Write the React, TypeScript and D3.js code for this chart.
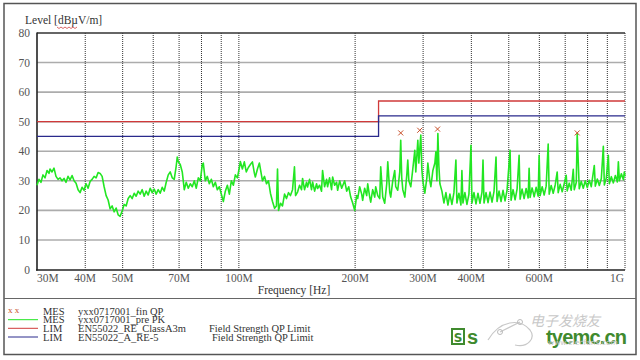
import React from "react";
import * as d3 from "d3";

// ---------- data ----------
const yTickValues = [0, 10, 20, 30, 40, 50, 60, 70, 80];
const xGridValues = [40, 50, 60, 70, 80, 90, 100, 200, 300, 400, 500, 600, 700, 800, 900, 1000];
const xTickValues = [30, 40, 50, 70, 100, 200, 300, 400, 600, 1000];
const xTickLabels = ["30M", "40M", "50M", "70M", "100M", "200M", "300M", "400M", "600M", "1G"];

// Limit lines (frequency MHz, level dBµV/m)
const limitClassAFreq = [30, 230, 230, 1000];
const limitClassALevel = [50, 50, 57, 57];
const limitRE5Freq = [30, 230, 230, 1000];
const limitRE5Level = [45, 45, 52, 52];

// QP final measurement markers
const qpFreq = [262.5, 294, 327, 752];
const qpLevel = [46.2, 47.1, 47.5, 46.2];

// Pre-scan peak trace (MHz, dBµV/m)
const preScan: [number, number][] = [
  [30.0, 28.5], [30.36, 30.5], [30.72, 29.5], [31.09, 32], [31.47, 31], [31.85, 33.5], [32.23, 32.5], [32.42, 34],
  [32.81, 33], [33.2, 34.3], [33.6, 31.5], [34.01, 30.5], [34.42, 31], [34.83, 30], [35.25, 30.8], [35.67, 29.5],
  [36.1, 31.5], [36.54, 30.3], [36.98, 31.8], [37.42, 30], [37.87, 29.2], [38.33, 27], [38.79, 26], [39.25, 27.8],
  [39.72, 26.8], [40.2, 29], [40.68, 27.5], [41.17, 29.8], [41.67, 30.5], [42.17, 31.5], [42.68, 31], [43.19, 32.8],
  [43.71, 32.5], [44.24, 31.5], [44.77, 28], [45.31, 25], [45.85, 23.5], [46.4, 20.5], [46.96, 21.5], [47.52, 19.5],
  [48.09, 20.8], [48.67, 18.5], [49.25, 18], [49.85, 19.8], [50.45, 22], [51.05, 21.5], [51.67, 24], [52.29, 25],
  [52.92, 24], [53.56, 25.8], [54.19, 24.8], [54.85, 26.5], [55.5, 25.5], [56.18, 27], [56.85, 24.8], [57.53, 26.5],
  [58.23, 25.2], [58.92, 27.5], [59.63, 26], [60.35, 27.2], [61.06, 25.5], [61.81, 27], [62.54, 25.8], [63.31, 27.8],
  [64.07, 26.5], [64.83, 29.5], [65.62, 32], [66.4, 33], [67.2, 31], [68.01, 30.5], [68.81, 35], [69.24, 38],
  [69.65, 36.5], [70.49, 35.5], [71.34, 33], [72.2, 27], [73.05, 29.5], [73.95, 27.5], [74.83, 29], [75.74, 28],
  [76.65, 30], [77.56, 27.5], [78.5, 31], [79.43, 30], [80.4, 35.5], [80.88, 36], [81.85, 30], [82.83, 31.5],
  [83.83, 29], [84.84, 30.5], [85.86, 28], [86.89, 29.5], [87.93, 27], [88.99, 28], [90.06, 25.5], [91.14, 23],
  [92.23, 26.5], [93.35, 28.5], [94.47, 25.5], [95.6, 30], [96.76, 28.5], [97.91, 32], [99.1, 31], [100.29, 34.5],
  [100.9, 36.5], [102.1, 34], [103.3, 36.4], [104.5, 33], [105.8, 34.5], [107.1, 35.5], [108.4, 36.4], [109.7, 32.5],
  [110.3, 31.3], [111.7, 34], [113.0, 36], [114.4, 32], [115.1, 30], [116.5, 31.5], [117.9, 29], [119.3, 30],
  [120.7, 25.8], [122.2, 23], [123.7, 20.7], [125.1, 21.5], [125.9, 34], [126.7, 20], [128.2, 22.4], [129.7, 21.5],
  [131.3, 25.5], [132.8, 24], [134.4, 26], [136.0, 25], [137.7, 27], [139.3, 34.7], [140.2, 25], [141.9, 26.2],
  [143.6, 28.5], [145.3, 27], [146.2, 30.8], [147.9, 27], [149.7, 29.5], [150.6, 27.9], [152.4, 30.5], [154.2, 27],
  [155.2, 29.6], [157.1, 26.5], [158.9, 29], [159.9, 27.4], [161.8, 28.5], [163.7, 26.5], [164.7, 33.5], [166.7, 28],
  [168.7, 30.5], [169.7, 28], [171.7, 31], [173.8, 27], [174.9, 31.3], [177.0, 28.5], [179.1, 29.5], [180.2, 26.8],
  [182.4, 30], [184.6, 27.5], [187.9, 30], [190.2, 26.5], [192.5, 28], [194.8, 24.5], [197.1, 22.5], [199.5, 20],
  [201.9, 25], [203.1, 24], [205.5, 28], [208.0, 25.5], [209.2, 23.4], [211.7, 27.5], [214.3, 25], [215.6, 29],
  [218.2, 24.5], [219.5, 22.8], [222.1, 27], [224.8, 24.5], [226.1, 28], [228.9, 25], [231.6, 24], [233.0, 34.7],
  [235.8, 24.5], [238.6, 22.4], [241.5, 29], [243.0, 36.4], [245.9, 26], [247.3, 24.5], [250.3, 30], [253.3, 33.5],
  [254.8, 28], [257.9, 26.8], [261.0, 33], [262.5, 43.7], [264.1, 31], [265.8, 27], [269.0, 24.5], [272.2, 32],
  [273.8, 37], [275.5, 30], [278.8, 28], [282.1, 34], [285.5, 40.3], [287.2, 33], [290.7, 43.7], [292.4, 36],
  [295.9, 45.5], [297.7, 34], [299.5, 30], [303.1, 25.8], [306.8, 31], [308.6, 36], [312.3, 30], [314.2, 28],
  [318.0, 33.5], [321.8, 36], [323.7, 39.8], [325.7, 30], [327.6, 46], [329.6, 35], [331.6, 29], [335.6, 26.5],
  [339.6, 22.5], [343.7, 26], [347.8, 21.8], [352.0, 25.5], [356.2, 22], [360.5, 26], [364.8, 37], [367.0, 22.5],
  [371.4, 25.8], [375.9, 21.8], [378.1, 33.5], [380.4, 22.5], [384.9, 26], [389.6, 22], [394.3, 25.5], [399.1, 42],
  [401.5, 22.5], [406.3, 26], [411.2, 22.2], [416.1, 25.8], [421.1, 22.4], [426.2, 26.2], [428.8, 37], [431.4, 22.5],
  [436.6, 26], [441.8, 22.6], [447.1, 26.2], [452.5, 22.8], [457.9, 26.4], [463.4, 38], [466.2, 23], [471.8, 26.5],
  [477.5, 23], [483.2, 26.8], [489.0, 23.2], [494.9, 26.8], [503.9, 40.3], [506.9, 23.4], [513.0, 27], [519.2, 23.6],
  [525.4, 27.2], [531.8, 38.6], [535.0, 23.8], [541.3, 27.2], [547.9, 24], [554.5, 27.4], [561.2, 24.2], [564.5, 34.2],
  [567.9, 24.4], [574.7, 27.6], [581.7, 24.6], [588.6, 27.8], [595.7, 24.8], [599.3, 38.6], [602.9, 25], [610.2, 28],
  [617.5, 25.2], [624.9, 28.2], [632.5, 42.4], [636.3, 25.5], [643.9, 28.4], [651.7, 25.8], [659.5, 28.6], [667.4, 33],
  [671.4, 26], [679.5, 28.8], [687.6, 26.3], [696.0, 29], [704.3, 31.9], [708.5, 26.6], [717.1, 29.2], [725.7, 26.8],
  [734.5, 33.9], [738.9, 27], [747.8, 29.4], [752, 46], [761.2, 27.3], [770.4, 29.8], [779.7, 27.5], [789.0, 30],
  [798.6, 27.7], [808.2, 30.2], [817.9, 28], [832.7, 35.2], [837.7, 28.2], [847.8, 30.6], [858.0, 28.4], [868.3, 30.8],
  [878.8, 41.7], [884.1, 28.6], [894.7, 31], [905.4, 38.6], [910.8, 29], [921.8, 31.4], [932.9, 29.3], [944.1, 31.8],
  [955.4, 29.6], [961.2, 36.4], [967.0, 30], [978.6, 32.4], [990.4, 30.4], [996, 33], [1000, 31.5],
];

const legendKinds = ["MES", "MES", "LIM", "LIM"];
const legendNames = ["yxx0717001_fin QP", "yxx0717001_pre PK", "EN55022_RE_ClassA3m", "EN55022_A_RE-5"];
const legendNotes = ["", "", "Field Strength QP Limit", "Field Strength QP Limit"];

// ---------- chart ----------
const SERIF = "'Liberation Serif', 'Times New Roman', serif";
const GREEN = "#22e622";
const RED = "#d03a3a";
const BLUE = "#2a2a8c";
const MARK = "#c8502a";

export default function App() {
  const x = d3.scaleLog().domain([30, 1000]).range([37, 625]);
  const y = d3.scaleLinear().domain([0, 80]).range([269.5, 33]);
  const line = d3.line<[number, number]>().x((d) => x(d[0])).y((d) => y(d[1]));
  const stepLine = (fs: number[], ls: number[]) =>
    line(fs.map((f, i) => [f, ls[i]] as [number, number])) || "";

  const legendRowY = [311, 319.7, 328.3, 337];
  const legendColors = [MARK, GREEN, RED, BLUE];

  return (
    <svg
      width={640}
      height={360}
      style={{ position: "absolute", left: 0, top: 0, background: "#fff" }}
      fontFamily={SERIF}
    >
      <rect x={0} y={0} width={640} height={360} fill="#fff" />
      {/* outer frame */}
      <rect x={4} y={3.5} width={632} height={351} fill="none" stroke="#555" strokeWidth={1.5} />
      <line x1={4} x2={636} y1={298.5} y2={298.5} stroke="#666" strokeWidth={1.2} />

      {/* y label */}
      <text x={25} y={24} fontSize={11.5} fill="#333">Level [dBµV/m]</text>
      <path
        d={d3.range(0, 11).map((i) => `${i === 0 ? "M" : "L"}${57 + i * 2},${i % 2 === 0 ? 27 : 28.5}`).join("")}
        fill="none"
        stroke="#d04040"
        strokeWidth={0.8}
      />

      {/* horizontal grid */}
      {yTickValues.filter((v) => v > 0 && v < 80).map((v) => (
        <line key={"h" + v} x1={37} x2={625} y1={y(v)} y2={y(v)} stroke="#acacac" strokeWidth={1.6} />
      ))}
      {/* vertical grid (dotted) */}
      {xGridValues.map((f) => (
        <line key={"v" + f} x1={x(f)} x2={x(f)} y1={33} y2={269.5} stroke="#333" strokeWidth={1} strokeDasharray="1,1" />
      ))}
      {/* frame */}
      <line x1={37} x2={625} y1={33} y2={33} stroke="#333" strokeWidth={1.3} />
      <line x1={37} x2={37} y1={32.5} y2={270.5} stroke="#222" strokeWidth={1.6} />
      <line x1={36} x2={625} y1={270} y2={270} stroke="#222" strokeWidth={1.6} />

      {/* y tick labels */}
      {yTickValues.map((v) => (
        <text key={"yl" + v} x={30} y={y(v) + 4} fontSize={11.5} fill="#555" textAnchor="end">{v}</text>
      ))}
      {/* x tick labels */}
      {xTickValues.map((f, i) => (
        <text
          key={"xl" + f}
          x={i === 0 ? 37 : i === xTickValues.length - 1 ? 624 : x(f)}
          y={282}
          fontSize={11.5}
          fill="#555"
          textAnchor={i === 0 ? "start" : i === xTickValues.length - 1 ? "end" : "middle"}
        >
          {xTickLabels[i]}
        </text>
      ))}
      <text x={294} y={294} fontSize={11.5} fill="#333" textAnchor="middle">Frequency [Hz]</text>

      {/* limits */}
      <path d={stepLine(limitClassAFreq, limitClassALevel)} fill="none" stroke={RED} strokeWidth={1.3} />
      <path d={stepLine(limitRE5Freq, limitRE5Level)} fill="none" stroke={BLUE} strokeWidth={1.3} />

      {/* pre-scan trace */}
      <path d={line(preScan) || ""} fill="none" stroke={GREEN} strokeWidth={1.6} strokeLinejoin="round" />

      {/* QP markers */}
      {qpFreq.map((f, i) => {
        const cx = x(f);
        const cy = y(qpLevel[i]);
        return (
          <g key={"m" + i} stroke={MARK} strokeWidth={1}>
            <line x1={cx - 2.5} x2={cx + 2.5} y1={cy - 2.5} y2={cy + 2.5} />
            <line x1={cx - 2.5} x2={cx + 2.5} y1={cy + 2.5} y2={cy - 2.5} />
          </g>
        );
      })}

      {/* legend */}
      {legendKinds.map((k, i) => {
        const ry = legendRowY[i];
        return (
          <g key={"lg" + i}>
            {i === 0 ? (
              <text x={8} y={ry + 2} fontSize={9} fill={MARK}>x x</text>
            ) : (
              <line x1={8} x2={38} y1={ry} y2={ry} stroke={legendColors[i]} strokeWidth={1} />
            )}
            <text x={43} y={ry + 3.5} fontSize={10.5} fill="#333">{k}</text>
            <text x={78} y={ry + 3.5} fontSize={10.5} fill="#333">{legendNames[i]}</text>
            {legendNotes[i] && (
              <text x={i === 2 ? 209 : 212} y={ry + 3.5} fontSize={10.5} fill="#333">{legendNotes[i]}</text>
            )}
          </g>
        );
      })}

      {/* watermark */}
      <g>
        <rect x={452} y={329} width={12} height={15} fill="none" stroke="#3f8a2e" strokeWidth={2} />
        <text x={458} y={341.5} fontSize={12} fontWeight="bold" fill="#3f8a2e" textAnchor="middle" fontFamily="'DejaVu Sans', sans-serif">S</text>
        <text x={467} y={344} fontSize={20} fontWeight="bold" fill="#3f8a2e" fontFamily="'Liberation Sans', Arial, sans-serif">s</text>
        <text x={546} y={344} fontSize={20} fontWeight="bold" fill="#3f8a2e" fontFamily="'Liberation Sans', Arial, sans-serif" textLength={81}>tyemc.cn</text>
        <path d="M488,340 C500,320 520,318 530,330 C536,338 528,348 515,345" fill="none" stroke="#c8c8c8" strokeWidth={1.2} />
        <path d="M500,332 L520,322" stroke="#c8c8c8" strokeWidth={1.2} />
        <circle cx={500} cy={332} r={2.5} fill="none" stroke="#bbb" />
        <circle cx={520} cy={322} r={2.5} fill="none" stroke="#bbb" />
        <text x={530} y={326} fontSize={14} fill="#c8c8c8" fontStyle="italic" fontFamily="'Noto Sans CJK SC', sans-serif">电子发烧友</text>
        <text x={548} y={345} fontSize={7.5} fill="#c8c8c8" fontFamily="'DejaVu Sans', sans-serif">www.elecfans.com</text>
      </g>
    </svg>
  );
}
